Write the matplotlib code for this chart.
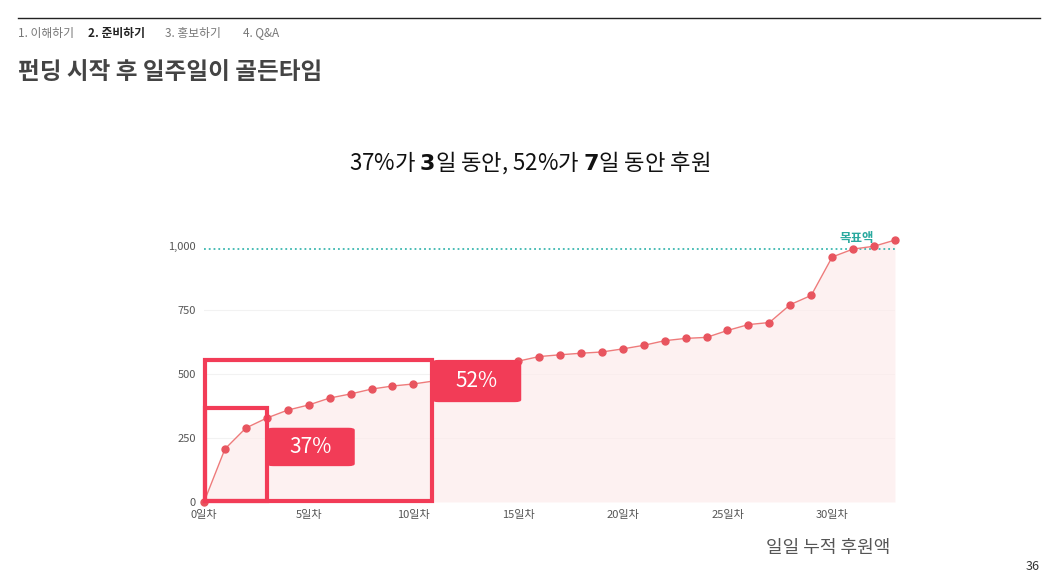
import matplotlib.pyplot as plt
from matplotlib.patches import FancyBboxPatch, Rectangle
import matplotlib.lines as mlines

plt.rcParams['font.family'] = ['Noto Sans CJK KR', 'DejaVu Sans']

days = list(range(34))
values = [0, 207, 289, 328, 359, 379, 406, 422, 441, 453, 461, 473, 490, 510, 530, 550,
          568, 575, 581, 586, 598, 612, 630, 639, 643, 670, 693, 701, 771, 807, 957, 988, 999, 1023]
goal = 990
xticks = [0, 5, 10, 15, 20, 25, 30]
xlabels = [f'{d}일차' for d in xticks]
yticks = [0, 250, 500, 750, 1000]
ylabels = ['0', '250', '500', '750', '1,000']

W, H = 1059, 588
fig = plt.figure(figsize=(W/100, H/100), dpi=100)
fig.add_artist(mlines.Line2D([18/W, 1040/W], [1-18/H, 1-18/H], color='#222222', lw=1))
fig.text(18/W, 1-33/H, '1. 이해하기', fontsize=8.5, color='#777777', va='center')
fig.text(88/W, 1-33/H, '2. 준비하기', fontsize=8.5, color='#222222', weight='bold', va='center')
fig.text(165/W, 1-33/H, '3. 홍보하기', fontsize=8.5, color='#777777', va='center')
fig.text(243/W, 1-33/H, '4. Q&A', fontsize=8.5, color='#777777', va='center')
fig.text(18/W, 1-72/H, '펀딩 시작 후 일주일이 골든타임', fontsize=17, color='#444444', weight='bold', va='center')
fig.text(0.5, 1-163/H, '37%가 $\\bf{3}$일 동안, 52%가 $\\bf{7}$일 동안 후원', fontsize=16, color='#111111', ha='center', va='center')
fig.text(890/W, 1-548/H, '일일 누적 후원액', fontsize=13, color='#555555', ha='right', va='center')
fig.text(1040/W, 1-567/H, '36', fontsize=9, color='#333333', ha='right', va='center')

ax = fig.add_axes([204/W, 1-502/H, (895-204)/W, (502-215)/H])
ax.set_xlim(0, 33)
ax.set_ylim(0, 1121)
ax.fill_between(days, values, 0, color='#fdecec', alpha=0.7, lw=0)
ax.plot(days, values, color='#ee7b7b', lw=1, marker='o', ms=5, mfc='#e8555f', mec='#e8555f', zorder=3, clip_on=False)
ax.axhline(goal, color='#3cb8b0', ls=':', lw=1.3)
ax.text(32.0, goal + 15, '목표액', color='#2aa99f', fontsize=9, weight='bold', ha='right', va='bottom')
for y in [250, 500, 750]:
    ax.axhline(y, color='#f2f2f2', lw=0.8, zorder=0)
for s in ax.spines.values():
    s.set_visible(False)
ax.set_xticks(xticks, xlabels, fontsize=8, color='#555555')
ax.set_yticks(yticks, ylabels, fontsize=8, color='#555555')
ax.tick_params(length=0, pad=6)

red = '#f23c57'
ax.add_patch(Rectangle((0.05, 5), 10.85, 550, fill=False, ec=red, lw=3, zorder=4, clip_on=False))
ax.add_patch(Rectangle((0.05, 5), 2.95, 362, fill=False, ec=red, lw=3, zorder=4, clip_on=False))
ax.add_patch(FancyBboxPatch((3.0, 140), 4.2, 150, boxstyle='round,pad=0,rounding_size=0.3',
                            fc=red, ec='none', zorder=5, mutation_aspect=30))
ax.text(5.1, 215, '37%', color='white', fontsize=15, ha='center', va='center', zorder=6)
ax.add_patch(FancyBboxPatch((10.9, 390), 4.25, 165, boxstyle='round,pad=0,rounding_size=0.3',
                            fc=red, ec='none', zorder=5, mutation_aspect=30))
ax.text(13.0, 472, '52%', color='white', fontsize=15, ha='center', va='center', zorder=6)

fig.savefig('out.png', dpi=100)
